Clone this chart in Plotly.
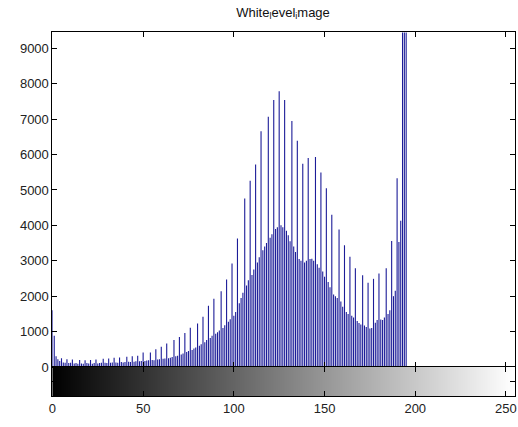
import plotly.graph_objects as go

# Histogram bins (intensity levels 0..255)
bins = list(range(256))

# Pixel counts per intensity level
counts = [
    1600, 880, 300, 220, 170, 250, 130, 120, 220, 110,
    120, 210, 100, 110, 90, 200, 100, 90, 190, 110,
    100, 200, 90, 110, 210, 100, 110, 120, 230, 120,
    110, 240, 120, 130, 260, 130, 120, 270, 140, 130,
    140, 290, 150, 140, 300, 150, 160, 320, 160, 170,
    410, 170, 180, 190, 410, 200, 190, 500, 210, 220,
    570, 230, 240, 660, 250, 260, 280, 760, 300, 320,
    850, 350, 380, 960, 420, 450, 1110, 480, 520, 550,
    1230, 600, 640, 1420, 700, 760, 1730, 820, 880, 1930,
    940, 980, 1030, 2140, 1100, 1180, 2470, 1280, 1350, 2920,
    1450, 1550, 3630, 1800, 1950, 2100, 4760, 2300, 2450, 5260,
    2600, 2750, 5720, 2950, 3100, 6660, 3300, 3400, 3500, 7070,
    3650, 3750, 7540, 3900, 3950, 7790, 4000, 3950, 7540, 3850,
    3720, 3550, 6950, 3400, 3250, 6390, 3050, 3000, 5740, 2950,
    3000, 5900, 3050, 3060, 3000, 5930, 2900, 2800, 5490, 2700,
    2550, 5050, 2400, 2250, 4300, 2050, 2000, 1950, 3880, 1850,
    1700, 3440, 1550, 1500, 3110, 1450, 1400, 2790, 1300, 1240,
    1200, 2590, 1170, 1130, 2380, 1090, 1100, 2490, 1250, 1330,
    2640, 1340, 1330, 1400, 2790, 1500, 1600, 3560, 2000, 2150,
    5330, 3530, 4130, 30000, 30000, 30000, 0, 0, 0, 0,
    0, 0, 0, 0, 0, 0, 0, 0, 0, 0,
    0, 0, 0, 0, 0, 0, 0, 0, 0, 0,
    0, 0, 0, 0, 0, 0, 0, 0, 0, 0,
    0, 0, 0, 0, 0, 0, 0, 0, 0, 0,
    0, 0, 0, 0, 0, 0, 0, 0, 0, 0,
    0, 0, 0, 0, 0, 0,
]

x_ticks = [0, 50, 100, 150, 200, 250]
y_ticks = [0, 1000, 2000, 3000, 4000, 5000, 6000, 7000, 8000, 9000]
title_text = "White<sub>l</sub>evel<sub>i</sub>mage"

W, H = 518, 427
L, R = 49, 517
TOP, MID, BOT = 33, 374, 404

# stem segments built from the data (one vertical line per bin)
stem_x, stem_y = [], []
for b, c in zip(bins, counts):
    if c > 0:
        stem_x += [b, b, None]
        stem_y += [0, c, None]

fig = go.Figure()
fig.add_trace(go.Scatter(
    x=stem_x, y=stem_y, mode="lines",
    line=dict(color="#1c1c98", width=1.1),
    xaxis="x", yaxis="y", showlegend=False, hoverinfo="skip",
))
fig.add_trace(go.Heatmap(
    x=bins, y=[0], z=[bins],
    colorscale=[[0, "black"], [1, "white"]],
    showscale=False, xaxis="x2", yaxis="y2", hoverinfo="skip",
))

font = dict(family="Liberation Sans, Arial", size=13, color="#222")
axcommon = dict(showline=True, linecolor="black", linewidth=1, mirror="allticks",
                ticks="inside", ticklen=5, tickcolor="black", showgrid=False,
                zeroline=False, tickfont=font)

fig.update_layout(
    width=W, height=H,
    margin=dict(l=0, r=0, t=0, b=0),
    paper_bgcolor="white", plot_bgcolor="white",
    title=dict(text=title_text, x=(L + R) / 2 / W, xanchor="center",
               y=1 - 12 / H, yanchor="middle", yref="container",
               font=dict(family="Liberation Sans, Arial", size=13, color="#111")),
    xaxis=dict(domain=[L / W, R / W], range=[0, 255], anchor="y",
               tickvals=x_ticks, showticklabels=False, **axcommon),
    yaxis=dict(domain=[1 - MID / H, 1 - TOP / H], range=[0, 9450], anchor="x",
               tickvals=y_ticks, ticktext=[str(v) for v in y_ticks], **axcommon),
    xaxis2=dict(domain=[L / W, R / W], range=[0, 255], anchor="y2",
                tickvals=x_ticks, ticktext=[str(v) for v in x_ticks],
                ticklabeloverflow="allow", **axcommon),
    yaxis2=dict(domain=[1 - BOT / H, 1 - MID / H], range=[-0.5, 0.5], anchor="x2",
                tickvals=[0], showticklabels=False, **axcommon),
)

fig.write_html("out.html")
